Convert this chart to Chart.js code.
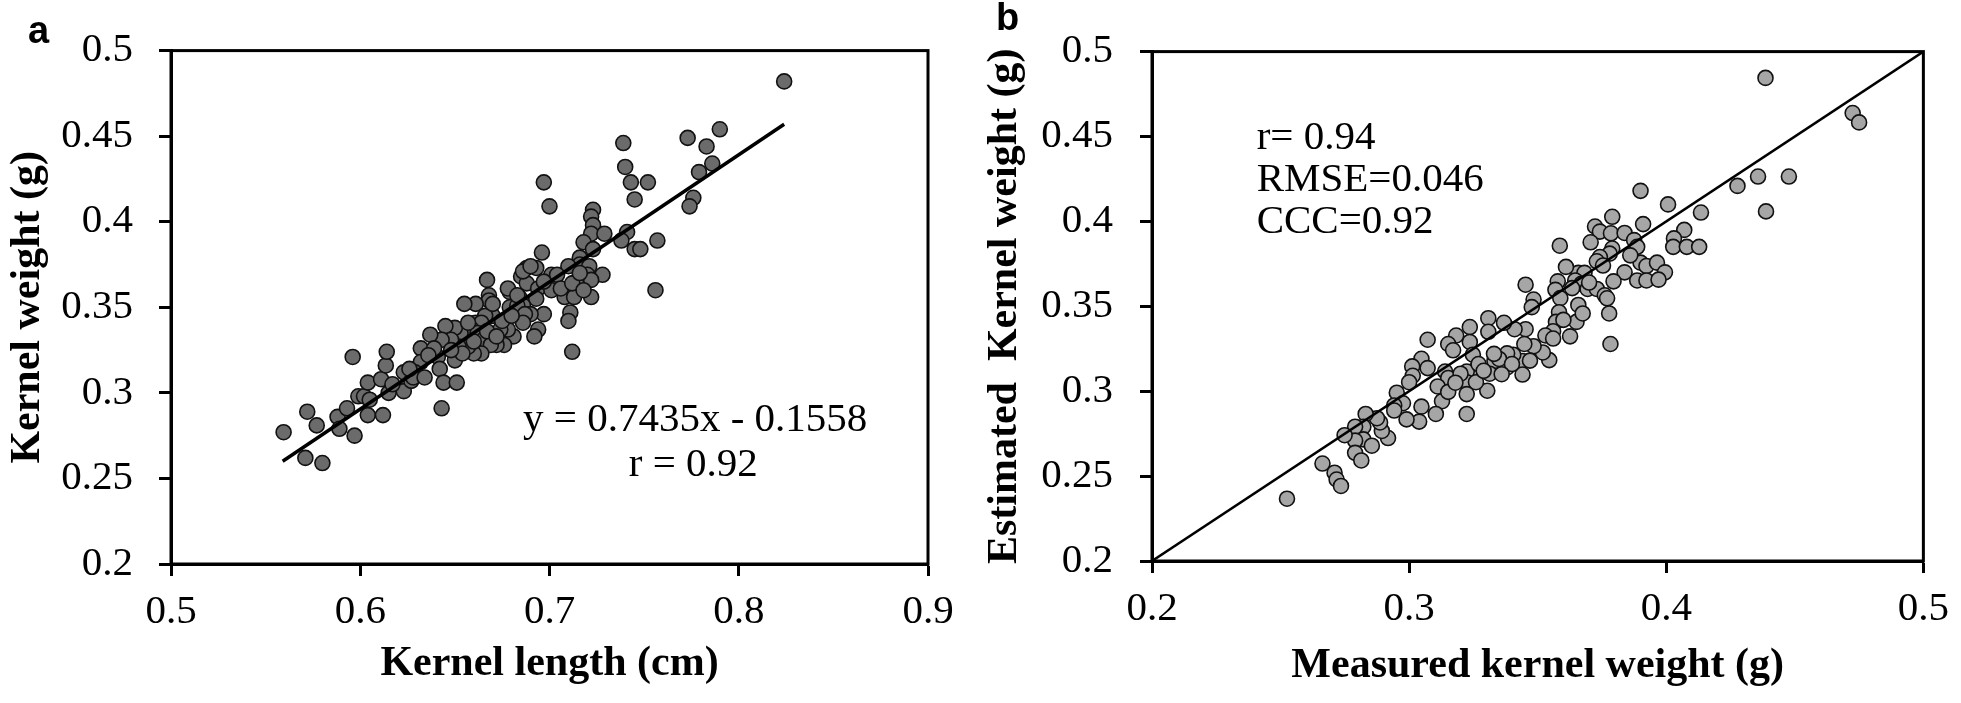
<!DOCTYPE html>
<html>
<head>
<meta charset="utf-8">
<script src="https://cdn.jsdelivr.net/npm/chart.js@4.4.0/dist/chart.umd.min.js"></script>
<style>
  body { margin: 0; background: #fff; }
  #wrap { position: relative; width: 1961px; height: 703px; }
  canvas { position: absolute; top: 0; }
</style>
</head>
<body>
<div id="wrap">
  <canvas id="chartA" width="980" height="703" style="left:0px"></canvas>
  <canvas id="chartB" width="981" height="703" style="left:980px"></canvas>
</div>
<script>
// ---- panel a : kernel length vs kernel weight ----
var lengthA = [0.824,0.790,0.773,0.783,0.786,0.779,0.776,0.774,0.739,0.740,0.743,0.752,0.745,0.697,0.700,
  0.723,0.722,0.723,0.722,0.729,0.718,0.741,0.738,0.745,0.748,0.757,0.756,0.723,0.728,0.722,0.696,
  0.716,0.716,0.710,0.721,0.720,0.722,0.714,0.708,0.708,0.713,0.711,0.710,0.712,
  0.701,0.704,0.693,0.688,0.685,0.688,0.694,0.701,0.693,0.679,0.684,0.686,
  0.667,0.668,0.668,0.661,0.655,0.679,0.683,0.697,0.690,0.687,0.686,0.694,0.692,0.681,0.678,0.674,0.676,0.672,
  0.670,0.666,0.661,0.664,0.659,0.662,0.653,0.650,0.645,0.665,0.669,0.664,0.660,0.657,0.652,0.648,0.643,0.637,
  0.641,0.650,0.632,0.639,0.632,0.629,0.642,0.623,0.623,0.627,0.644,0.651,0.643,
  0.5595,0.572,0.577,0.571,0.580,0.588,0.589,0.593,0.597,0.596,0.599,0.602,0.604,0.611,0.605,0.604,0.612,
  0.6135,0.614,0.615,0.628,0.634,
  0.678,0.683,0.686,0.690,0.706,0.712,0.667,0.654,0.675,0.670,0.657,0.648,0.636,0.626,0.617,0.660,0.672,0.680,
  0.697,0.716,0.718];
var weightA = [0.482,0.454,0.449,0.444,0.434,0.429,0.414,0.409,0.446,0.432,0.423,0.423,0.413,0.423,0.409,
  0.407,0.403,0.398,0.393,0.393,0.388,0.394,0.389,0.384,0.384,0.389,0.360,0.384,0.369,0.356,0.382,
  0.379,0.375,0.374,0.374,0.369,0.366,0.365,0.360,0.356,0.356,0.347,0.342,0.324,
  0.369,0.369,0.373,0.373,0.368,0.364,0.361,0.360,0.355,0.359,0.356,0.351,
  0.366,0.357,0.354,0.352,0.352,0.350,0.351,0.346,0.346,0.346,0.341,0.337,0.333,0.333,0.337,0.337,0.328,0.328,
  0.345,0.345,0.341,0.341,0.337,0.335,0.335,0.338,0.339,0.331,0.328,0.323,0.323,0.327,0.327,0.331,0.331,0.334,
  0.321,0.319,0.326,0.326,0.318,0.312,0.314,0.312,0.301,0.307,0.306,0.306,0.291,
  0.277,0.289,0.281,0.262,0.259,0.286,0.279,0.291,0.275,0.321,0.298,0.298,0.306,0.308,0.296,0.287,0.287,
  0.316,0.324,0.300,0.309,0.309,
  0.361,0.357,0.371,0.374,0.361,0.364,0.336,0.323,0.342,0.352,0.341,0.325,0.322,0.314,0.305,0.330,0.333,0.345,
  0.365,0.370,0.360];
var fitX = [0.559, 0.824];
var fitY = [0.260, 0.457];
var xTicksA = [0.5, 0.6, 0.7, 0.8, 0.9];
var yTicks = [0.2, 0.25, 0.3, 0.35, 0.4, 0.45, 0.5];

// ---- panel b : measured vs estimated kernel weight ----
var measuredB = [0.4386,0.4725,0.475,0.4277,0.4357,0.4477,0.4388,0.4135,0.4007,0.390,0.407,0.403,0.4027,0.408,0.4128,
  0.391,0.379,0.3723,0.3742,0.3785,0.3838,0.3875,0.3887,0.3706,0.379,0.378,0.3742,0.373,0.3754,0.390,0.3923,
  0.3964,0.3995,0.3838,0.3887,0.3923,0.397,0.3795,0.3658,0.3682,0.3646,0.367,0.3634,0.3694,0.373,0.3761,0.377,
  0.3778,0.3783,0.361,0.3586,0.3578,0.3569,0.3588,0.3583,0.3658,0.3651,0.3675,0.3626,0.3571,0.356,0.353,0.3545,
  0.352,0.3484,0.3453,0.3484,0.3477,0.3453,0.3448,0.3441,0.3441,0.341,0.3405,0.3381,0.3369,0.3381,0.3308,0.3308,
  0.3332,0.3313,0.3304,0.3236,0.3236,0.3248,0.326,0.3224,0.3224,0.326,0.3224,0.3224,0.3183,0.3152,0.3171,0.314,
  0.3152,0.320,0.3111,0.3128,0.3152,0.3104,0.3072,0.3048,0.3072,0.3012,0.3014,0.300,0.3048,0.3039,0.2952,0.299,
  0.2976,0.2942,0.2942,0.2918,0.2894,0.2887,0.2875,0.2831,0.2822,0.2822,0.2855,0.279,0.279,0.279,0.2814,0.2749,
  0.2663,0.271,0.2718,0.2735,0.2525,
  0.327,0.329,0.335,0.340,0.336,0.318,0.333,0.347,0.356,0.360,0.370,0.386];
var estimatedB = [0.4845,0.4638,0.4583,0.4209,0.4264,0.4264,0.4059,0.4052,0.410,0.418,0.395,0.390,0.385,0.385,0.385,
  0.3984,0.4027,0.397,0.394,0.393,0.3932,0.389,0.385,0.3877,0.384,0.381,0.379,0.3765,0.374,0.3757,0.3737,
  0.3757,0.370,0.370,0.3652,0.3652,0.3657,0.3647,0.3697,0.3697,0.3652,0.3632,0.3607,0.3602,0.3602,0.3565,0.3547,
  0.3458,0.3278,0.3732,0.3857,0.3647,0.3597,0.3548,0.3465,0.3508,0.3408,0.3458,0.3323,0.3408,0.3353,0.3328,0.3183,
  0.3228,0.3265,0.3627,0.354,0.3495,0.3365,0.3278,0.3178,0.3098,0.3365,0.3215,0.3223,0.3403,0.314,0.343,0.335,
  0.3178,0.3103,0.3003,0.3378,0.329,0.3215,0.3128,0.3116,0.3053,0.3053,0.2983,0.2866,0.3328,0.3278,0.3241,0.3116,
  0.3078,0.3103,0.3028,0.2941,0.2996,0.2866,0.3303,0.3191,0.3136,0.3146,0.3091,0.3053,0.2909,0.2821,0.2991,0.2834,
  0.2929,0.2916,0.2886,0.2724,0.2766,0.2816,0.2841,0.2866,0.2791,0.2716,0.2679,0.2791,0.2709,0.2637,0.2592,0.2741,
  0.2574,0.252,0.248,0.2442,0.2367,
  0.316,0.312,0.319,0.316,0.310,0.305,0.322,0.318,0.331,0.342,0.364,0.380];
var lineB = [0.2, 0.5];
var xTicksB = [0.2, 0.3, 0.4, 0.5];

function toPoints(xs, ys) {
  var out = [];
  for (var i = 0; i < xs.length; i++) out.push({ x: xs[i], y: ys[i] });
  return out;
}

// frame round the plot area + free texts placed in data units
var framePlugin = {
  id: 'frame',
  afterDraw: function (chart) {
    var a = chart.chartArea, ctx = chart.ctx;
    ctx.save();
    ctx.strokeStyle = '#000';
    ctx.lineWidth = 3;
    ctx.strokeRect(a.left, a.top, a.right - a.left, a.bottom - a.top);
    var notes = chart.options.plugins.frame.notes || [];
    notes.forEach(function (n) {
      ctx.font = n.font;
      ctx.fillStyle = '#000';
      ctx.textAlign = n.align;
      ctx.textBaseline = 'middle';
      var px = n.px !== undefined ? n.px : chart.scales.x.getPixelForValue(n.x);
      var py = n.py !== undefined ? n.py : chart.scales.y.getPixelForValue(n.y);
      ctx.fillText(n.text, px, py);
    });
    ctx.restore();
  }
};

function makeOptions(o) {
  return {
    responsive: false,
    animation: false,
    layout: { padding: { top: 23, right: o.padRight, left: 0, bottom: 0 } },
    plugins: {
      legend: { display: false },
      tooltip: { enabled: false },
      frame: { notes: o.notes }
    },
    scales: {
      x: {
        type: 'linear', min: o.xMin, max: o.xMax,
        afterBuildTicks: function (s) { s.ticks = o.xTicks.map(function (v) { return { value: v }; }); },
        afterFit: function (s) { s.height = o.xHeight; },
        grid: { drawOnChartArea: false, drawTicks: true, tickLength: 12, tickWidth: 3, tickColor: '#000' },
        border: { display: true, color: '#000', width: 3 },
        ticks: { color: '#000', padding: 12, font: { family: 'Liberation Serif', size: 41 },
          callback: function (v) { return String(+v.toFixed(2)); } },
        title: { display: true, text: o.xTitle, color: '#000', padding: { top: 0, bottom: o.xTitlePad },
          font: { family: 'Liberation Serif', size: 42, weight: 'bold' } }
      },
      y: {
        type: 'linear', min: 0.2, max: 0.5,
        afterBuildTicks: function (s) { s.ticks = yTicks.map(function (v) { return { value: v }; }); },
        afterFit: function (s) { s.width = o.yWidth; },
        grid: { drawOnChartArea: false, drawTicks: true, tickLength: 12, tickWidth: 3, tickColor: '#000' },
        border: { display: true, color: '#000', width: 3 },
        ticks: { color: '#000', padding: o.yTickPad, font: { family: 'Liberation Serif', size: 41 },
          callback: function (v) { return String(+v.toFixed(2)); } },
        title: { display: true, text: o.yTitle, color: '#000', padding: { top: o.yTitlePad, bottom: 0 },
          font: { family: 'Liberation Serif', size: 42, weight: 'bold' } }
      }
    }
  };
}

new Chart(document.getElementById('chartA'), {
  type: 'scatter',
  data: {
    datasets: [
      { type: 'line', data: toPoints(fitX, fitY), borderColor: '#000', borderWidth: 3.5,
        pointRadius: 0, fill: false, order: 0 },
      { data: toPoints(lengthA, weightA), backgroundColor: '#6b6b6b', borderColor: '#111',
        borderWidth: 1.6, pointRadius: 7.5, order: 1 }
    ]
  },
  options: makeOptions({
    padRight: 52, xHeight: 139, yWidth: 171, yTickPad: 26, xTitlePad: 14, yTitlePad: 3,
    xMin: 0.5, xMax: 0.9, xTicks: xTicksA,
    xTitle: 'Kernel length (cm)', yTitle: 'Kernel weight (g)',
    notes: [
      { text: 'y = 0.7435x - 0.1558', x: 0.777, y: 0.284, align: 'center', font: '41px "Liberation Serif"' },
      { text: 'r = 0.92', x: 0.776, y: 0.258, align: 'center', font: '41px "Liberation Serif"' },
      { text: 'a', px: 28, py: 33, align: 'left', font: 'bold 38px "Liberation Sans"' }
    ]
  }),
  plugins: [framePlugin]
});

new Chart(document.getElementById('chartB'), {
  type: 'scatter',
  data: {
    datasets: [
      { type: 'line', data: toPoints(lineB, lineB), borderColor: '#000', borderWidth: 2.5,
        pointRadius: 0, fill: false, order: 0 },
      { data: toPoints(measuredB, estimatedB), backgroundColor: '#a6a6a6', borderColor: '#111',
        borderWidth: 1.6, pointRadius: 7.5, order: 1 }
    ]
  },
  options: makeOptions({
    padRight: 27, xHeight: 142, yWidth: 172, yTickPad: 27, xTitlePad: 12, yTitlePad: 0,
    xMin: 0.2, xMax: 0.5, xTicks: xTicksB,
    xTitle: 'Measured kernel weight (g)', yTitle: 'Estimated  Kernel weight (g)',
    notes: [
      { text: 'r= 0.94', x: 0.2407, y: 0.4487, align: 'left', font: '41px "Liberation Serif"' },
      { text: 'RMSE=0.046', x: 0.2407, y: 0.4244, align: 'left', font: '41px "Liberation Serif"' },
      { text: 'CCC=0.92', x: 0.2407, y: 0.3996, align: 'left', font: '41px "Liberation Serif"' },
      { text: 'b', px: 16, py: 20, align: 'left', font: 'bold 38px "Liberation Sans"' }
    ]
  }),
  plugins: [framePlugin]
});
</script>
</body>
</html>
